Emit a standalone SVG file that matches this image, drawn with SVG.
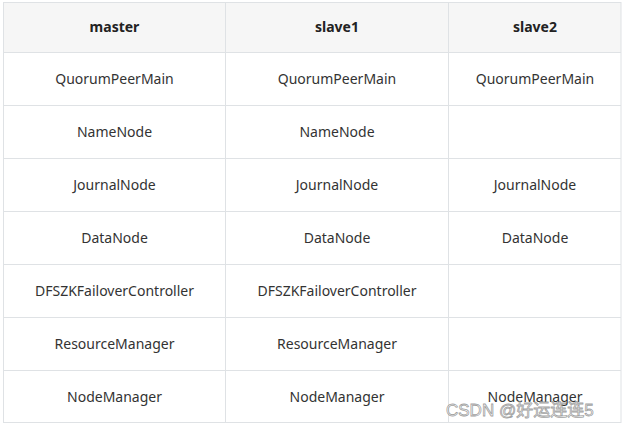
<svg xmlns="http://www.w3.org/2000/svg" width="625" height="427" viewBox="0 0 625 427">
<style>
.grid{stroke:#dfe2e5;stroke-width:1;fill:none}
.h{font-family:"Noto Sans","Open Sans",sans-serif;font-size:14px;font-weight:bold;fill:#222;text-anchor:middle}
.c{font-family:"Noto Sans","Open Sans",sans-serif;font-size:14px;fill:#333;text-anchor:middle}
.wm{font-family:"Liberation Sans","Noto Sans CJK SC",sans-serif;font-size:17px;fill:#fff;fill-opacity:0.3;stroke:#888;stroke-width:0.8;stroke-opacity:0.8}
</style>
<rect x="0" y="0" width="625" height="427" fill="#ffffff"/>
<g id="header">
<rect x="3.5" y="2.5" width="617.5" height="50" fill="#f6f6f6"/>
<text class="h" x="114.5" y="32">master</text>
<text class="h" x="337" y="32">slave1</text>
<text class="h" x="535" y="32">slave2</text>
</g>
<g id="row1">
<text class="c" x="114.5" y="84">QuorumPeerMain</text>
<text class="c" x="337" y="84">QuorumPeerMain</text>
<text class="c" x="535" y="84">QuorumPeerMain</text>
</g>
<g id="row2">
<text class="c" x="114.5" y="137">NameNode</text>
<text class="c" x="337" y="137">NameNode</text>
</g>
<g id="row3">
<text class="c" x="114.5" y="190">JournalNode</text>
<text class="c" x="337" y="190">JournalNode</text>
<text class="c" x="535" y="190">JournalNode</text>
</g>
<g id="row4">
<text class="c" x="114.5" y="243">DataNode</text>
<text class="c" x="337" y="243">DataNode</text>
<text class="c" x="535" y="243">DataNode</text>
</g>
<g id="row5">
<text class="c" x="114.5" y="296">DFSZKFailoverController</text>
<text class="c" x="337" y="296">DFSZKFailoverController</text>
</g>
<g id="row6">
<text class="c" x="114.5" y="349">ResourceManager</text>
<text class="c" x="337" y="349">ResourceManager</text>
</g>
<g id="row7">
<text class="c" x="114.5" y="402">NodeManager</text>
<text class="c" x="337" y="402">NodeManager</text>
<text class="c" x="535" y="402">NodeManager</text>
</g>
<g id="grid" class="grid">
<rect x="3.5" y="2.5" width="617.5" height="420"/>
<path d="M3.5 52.5H621M3.5 105.5H621M3.5 158.5H621M3.5 211.5H621M3.5 264.5H621M3.5 317.5H621M3.5 370.5H621M225.5 2.5V422.5M448.5 2.5V422.5"/>
</g>
<text class="wm" x="446" y="416">CSDN @好运连连5</text>
</svg>
